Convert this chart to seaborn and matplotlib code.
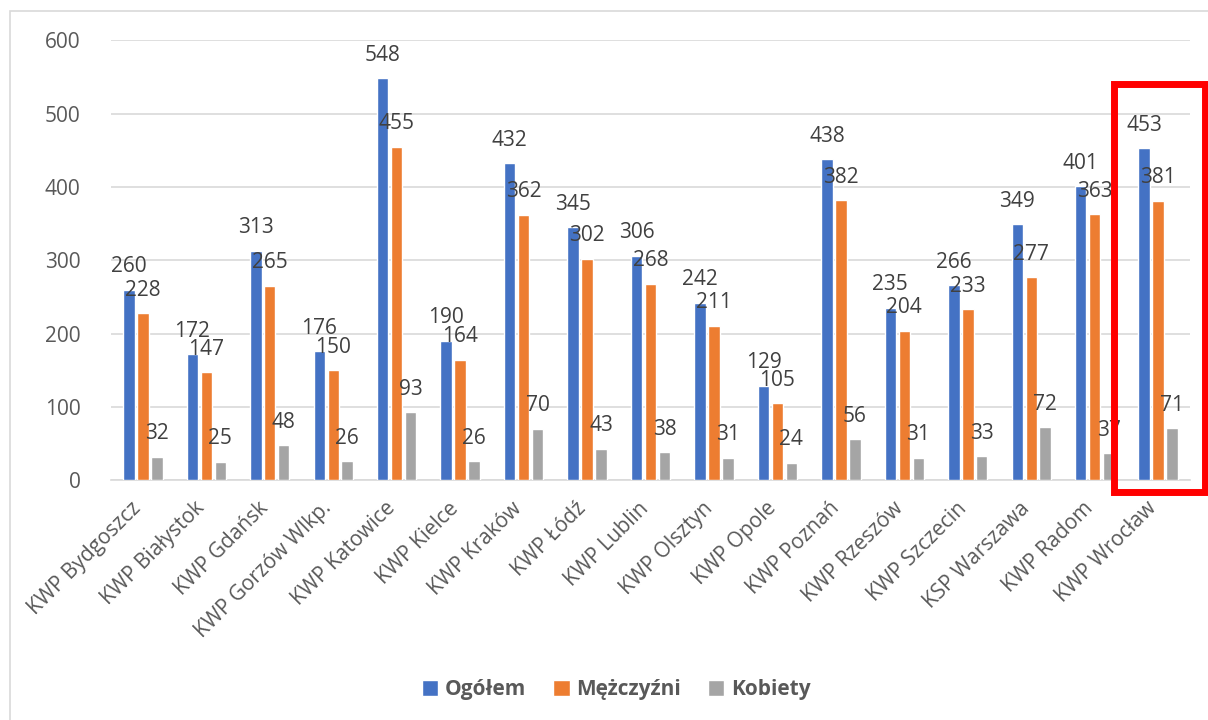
import matplotlib.pyplot as plt
import matplotlib.patches as mpatches
import matplotlib.transforms as mtransforms
import pandas as pd
import seaborn as sns

regions = ["KWP Bydgoszcz", "KWP Białystok", "KWP Gdańsk", "KWP Gorzów Wlkp.",
           "KWP Katowice", "KWP Kielce", "KWP Kraków", "KWP Łódź", "KWP Lublin",
           "KWP Olsztyn", "KWP Opole", "KWP Poznań", "KWP Rzeszów", "KWP Szczecin",
           "KSP Warszawa", "KWP Radom", "KWP Wrocław"]
ogolem = [260, 172, 313, 176, 548, 190, 432, 345, 306, 242, 129, 438, 235, 266, 349, 401, 453]
mezczyzni = [228, 147, 265, 150, 455, 164, 362, 302, 268, 211, 105, 382, 204, 233, 277, 363, 381]
kobiety = [32, 25, 48, 26, 93, 26, 70, 43, 38, 31, 24, 56, 31, 33, 72, 37, 71]
series = ["Ogółem", "Mężczyźni", "Kobiety"]
colors = ["#4472C4", "#ED7D31", "#A5A5A5"]
highlight = "KWP Wrocław"

rows = []
for name, vals in zip(series, [ogolem, mezczyzni, kobiety]):
    for reg, v in zip(regions, vals):
        rows.append({"region": reg, "series": name, "value": v})
df = pd.DataFrame(rows)

sns.set_style("white")
plt.rcParams["font.family"] = ["Open Sans", "DejaVu Sans"]

fig = plt.figure(figsize=(12.08, 7.2), dpi=100)
ax = fig.add_axes([0.092, 0.333, 0.893, 0.611])

sns.barplot(data=df, x="region", y="value", hue="series", order=regions,
            hue_order=series, palette=colors, width=0.66, gap=0.18,
            saturation=1, ax=ax, zorder=3)

for cont in ax.containers:
    ax.bar_label(cont, padding=9, fontsize=15, color="#404040", zorder=4)

ax.set_ylim(0, 600)
ax.set_yticks(range(0, 601, 100))
ax.yaxis.grid(True, color="#D9D9D9", linewidth=1.2, zorder=0)
ax.set_axisbelow(True)
for s in ["top", "right", "left"]:
    ax.spines[s].set_visible(False)
ax.spines["bottom"].set_color("#D9D9D9")
ax.spines["bottom"].set_linewidth(1.2)
ax.set_xlabel("")
ax.set_ylabel("")
ax.tick_params(axis="both", length=0, labelsize=15, labelcolor="#595959")
ax.tick_params(axis="y", pad=22)
ax.tick_params(axis="x", pad=4)
shift = mtransforms.ScaledTranslation(-0.12, -0.12, fig.dpi_scale_trans)
for lab in ax.get_xticklabels():
    lab.set_rotation(45)
    lab.set_ha("right")
    lab.set_rotation_mode("anchor")
    lab.set_transform(lab.get_transform() + shift)
ax.set_xlim(-0.5, len(regions) - 0.5)

# red frame around the highlighted group
i = regions.index(highlight)
rect = mpatches.Rectangle((i - 0.69, -16), 1.43, 556, fill=False,
                          edgecolor="#FF0000", linewidth=5, clip_on=False, zorder=5)
ax.add_patch(rect)

handles, labels = ax.get_legend_handles_labels()
ax.get_legend().remove()
fig.legend(handles, labels, loc="center", bbox_to_anchor=(0.51, 0.042), ncol=3,
           frameon=False, prop={"weight": "bold", "size": 15}, labelcolor="#595959",
           handlelength=0.8, handleheight=0.8, handletextpad=0.3, columnspacing=1.3)

# outer chart frame
fig.patches.append(mpatches.Rectangle((10 / 1208, -0.05), 1.2, 1.035, fill=False,
                                      edgecolor="#D9D9D9", linewidth=1.2,
                                      transform=fig.transFigure, figure=fig))

fig.savefig("out.png", dpi=100)
